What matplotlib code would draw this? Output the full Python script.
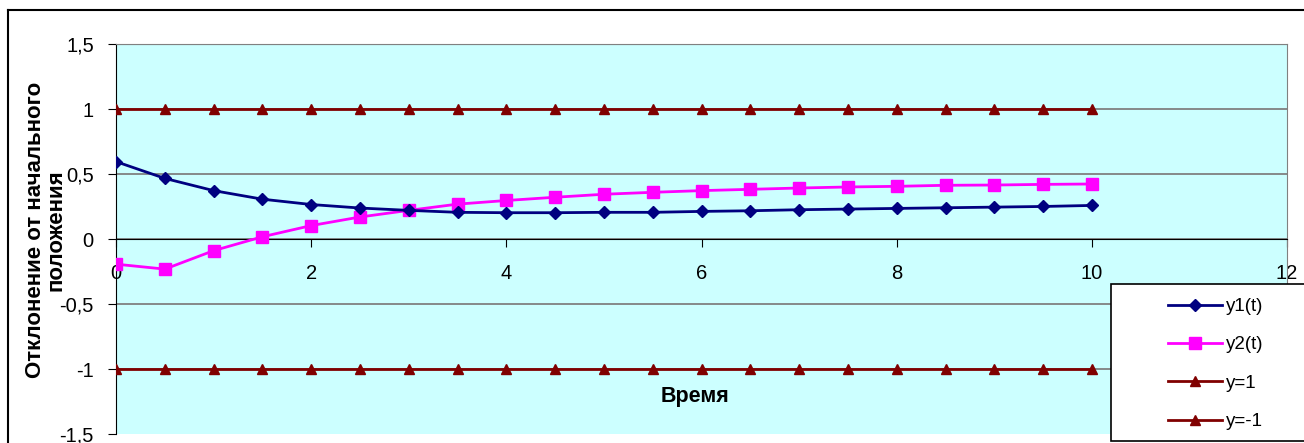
import matplotlib
matplotlib.use("Agg")
import matplotlib.pyplot as plt
from matplotlib.lines import Line2D
from matplotlib.patches import Rectangle

plt.rcParams['font.family'] = ['Liberation Sans', 'DejaVu Sans']

# data
t = [0, 0.5, 1, 1.5, 2, 2.5, 3, 3.5, 4, 4.5, 5, 5.5, 6, 6.5, 7, 7.5, 8, 8.5, 9, 9.5, 10]
y1 = [0.596, 0.467, 0.373, 0.307, 0.266, 0.239, 0.221, 0.206, 0.203, 0.203, 0.206,
      0.206, 0.213, 0.218, 0.226, 0.231, 0.236, 0.241, 0.246, 0.251, 0.259]
y2 = [-0.193, -0.231, -0.089, 0.018, 0.104, 0.170, 0.221, 0.269, 0.297, 0.322, 0.345,
      0.360, 0.373, 0.383, 0.393, 0.401, 0.406, 0.414, 0.416, 0.421, 0.424]
upper = [1] * len(t)
lower = [-1] * len(t)
labels = ["y1(t)", "y2(t)", "y=1", "y=-1"]
yticks = [-1.5, -1, -0.5, 0, 0.5, 1, 1.5]
ytick_labels = ["-1,5", "-1", "-0,5", "0", "0,5", "1", "1,5"]
xticks = [0, 2, 4, 6, 8, 10, 12]

fig = plt.figure(figsize=(13.04, 4.43), dpi=100)
ax = fig.add_axes([0.089, 0.0203, 0.898, 0.880])
ax.set_facecolor('#CCFFFF')

ax.spines['bottom'].set_position(('data', 0))
ax.spines['bottom'].set_color('black')
ax.spines['left'].set_color('black')
for s in ['top', 'right']:
    ax.spines[s].set_color('#808080')

for yv in yticks[1:-1]:
    ax.axhline(yv, color='#808080', lw=1.3, zorder=1)

h1, = ax.plot(t, y1, color='#000080', marker='D', ms=6, lw=2, zorder=4)
h2, = ax.plot(t, y2, color='#FF00FF', marker='s', ms=8, lw=2, zorder=3)
h3, = ax.plot(t, upper, color='#800000', marker='^', ms=7, lw=2, zorder=3)
h4, = ax.plot(t, lower, color='#800000', marker='^', ms=7, lw=2, zorder=3)

ax.set_xlim(0, 12)
ax.set_ylim(-1.5, 1.5)
ax.set_yticks(yticks)
ax.set_yticklabels(ytick_labels, fontsize=14.5)
ax.set_xticks(xticks)
ax.set_xticklabels([str(v) for v in xticks], fontsize=14.5)
ax.tick_params(axis='x', direction='out', length=6, pad=12, color='black')
ax.tick_params(axis='y', direction='out', length=6, pad=10, color='black')

ax.axhline(1.5, color='#808080', lw=1.5)

fig.text(0.533, 0.104, "Время", fontsize=15.5, fontweight='bold', ha='center', va='center')
fig.text(0.035, 0.481, "Отклонение от начального\nположения", fontsize=16,
         fontweight='bold', rotation=90, ha='center', va='center', linespacing=0.95)

# outer chart border
fig.add_artist(Line2D([0.006, 0.006], [-0.1, 0.977], color='black', lw=1.5))
fig.add_artist(Line2D([0.006, 1.1], [0.977, 0.977], color='black', lw=1.5))

# legend box
fig.add_artist(Rectangle((1111 / 1304, 2 / 443), 0.2, (443 - 284 - 2) / 443,
                         transform=fig.transFigure, facecolor='white',
                         edgecolor='black', lw=1.2, zorder=5))
leg = fig.legend([h1, h2, h3, h4], labels, loc='upper left',
                 bbox_to_anchor=(1168 / 1304, 1 - 298 / 443), fontsize=13.5,
                 frameon=False, handlelength=2.9, labelspacing=1.13,
                 borderpad=0, handletextpad=0.2, borderaxespad=0)
leg.set_zorder(6)

fig.savefig("out.png", dpi=100)
